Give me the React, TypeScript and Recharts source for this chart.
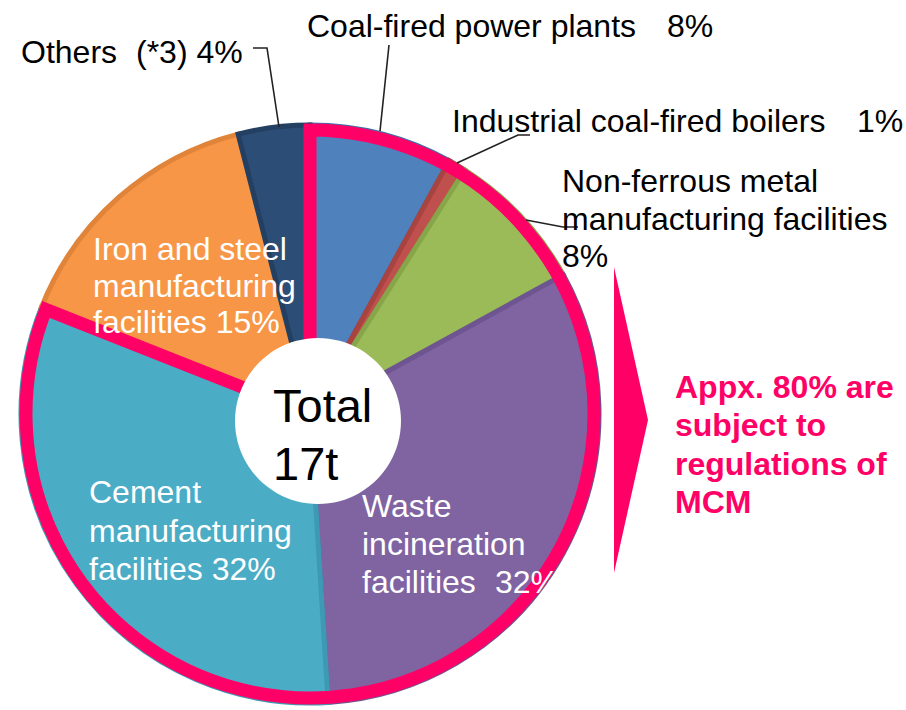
import React from 'react';
import { PieChart, Pie, Cell } from 'recharts';

const categories = [
  'Coal-fired power plants',
  'Industrial coal-fired boilers',
  'Non-ferrous metal manufacturing facilities',
  'Waste incineration facilities',
  'Cement manufacturing facilities',
  'Iron and steel manufacturing facilities',
  'Others (*3)',
];
const shares = [8, 1, 8, 32, 32, 15, 4];
const regulated = [true, true, true, true, true, false, false];
const fills = ['#4f81bd', '#c0504d', '#9bbb59', '#8064a2', '#4bacc6', '#f79646', '#2c4d75'];
const strokes = ['#3f6ea8', '#a84340', '#86a649', '#6e5591', '#3e9ab4', '#e0843a', '#233f61'];
const totalLines = ['Total', '17t'];
const noteLines = ['Appx. 80% are', 'subject to', 'regulations of', 'MCM'];

const sliceData = categories.map((name, i) => ({ name, value: shares[i] }));
const regSum = shares.reduce((s, v, i) => (regulated[i] ? s + v : s), 0);
const otherSum = shares.reduce((s, v, i) => (regulated[i] ? s : s + v), 0);
const outlineData = [
  { name: 'regulated', value: regSum },
  { name: 'rest', value: otherSum },
];
const centerData = [{ name: 'center', value: 1 }];

const FONT = 'Liberation Sans, Arial, Helvetica, sans-serif';
const PINK = '#ff0066';

export default function App() {
  const fs = 32;
  return (
    <div style={{ position: 'absolute', left: 0, top: 0, width: 906, height: 710, background: '#fff' }}>
      <PieChart width={906} height={710} margin={{ top: 0, right: 0, bottom: 0, left: 0 }}>
        <Pie
          data={sliceData}
          dataKey="value"
          cx={310}
          cy={414}
          outerRadius={289}
          innerRadius={0}
          startAngle={90}
          endAngle={-270}
          isAnimationActive={false}
          label={false}
          labelLine={false}
        >
          {sliceData.map((d, i) => (
            <Cell key={d.name} fill={fills[i]} stroke={strokes[i]} strokeWidth={5} />
          ))}
        </Pie>
        <Pie
          data={outlineData}
          dataKey="value"
          cx={310}
          cy={414}
          outerRadius={284}
          innerRadius={0}
          startAngle={90}
          endAngle={-270}
          isAnimationActive={false}
          label={false}
          labelLine={false}
        >
          <Cell fill="none" stroke={PINK} strokeWidth={13} strokeLinejoin="miter" />
          <Cell fill="none" stroke="none" />
        </Pie>
        <Pie
          data={centerData}
          dataKey="value"
          cx={318}
          cy={421}
          outerRadius={83}
          innerRadius={0}
          startAngle={90}
          endAngle={-270}
          isAnimationActive={false}
          label={false}
          labelLine={false}
        >
          <Cell fill="#ffffff" stroke="none" />
        </Pie>
      </PieChart>
      <svg
        width={906}
        height={710}
        style={{ position: 'absolute', left: 0, top: 0, pointerEvents: 'none' }}
        fontFamily={FONT}
      >
        <g stroke="#222" strokeWidth={1.6} fill="none">
          <polyline points="253,48 267,48 279,127" />
          <polyline points="389,45 380,131" />
          <polyline points="457,163 518,135 530,135" />
          <polyline points="526,220 563,227 578,227" />
        </g>
        <polygon points="614,267 648,420 614,573" fill={PINK} />

        <g fontSize={fs} fill="#000">
          <text x={21} y={63}>Others</text>
          <text x={136} y={63}>(*3) 4%</text>
          <text x={307} y={37}>Coal-fired power plants</text>
          <text x={667} y={37}>8%</text>
          <text x={452} y={132}>Industrial coal-fired boilers</text>
          <text x={857} y={132}>1%</text>
          <text x={562} y={192}>Non-ferrous metal</text>
          <text x={562} y={230}>manufacturing facilities</text>
          <text x={562} y={267}>8%</text>
        </g>
        <g fontSize={fs} fill="#fff">
          <text x={93} y={260}>Iron and steel</text>
          <text x={93} y={297}>manufacturing</text>
          <text x={93} y={333}>facilities 15%</text>
          <text x={89} y={503}>Cement</text>
          <text x={89} y={542}>manufacturing</text>
          <text x={89} y={580}>facilities 32%</text>
          <text x={362} y={517}>Waste</text>
          <text x={362} y={555}>incineration</text>
          <text x={362} y={593}>facilities</text>
          <text x={495} y={593}>32%</text>
        </g>
        <g fontSize={47} fill="#000">
          <text x={273} y={422}>{totalLines[0]}</text>
          <text x={273} y={480}>{totalLines[1]}</text>
        </g>
        <g fontSize={fs} fill={PINK} fontWeight="bold">
          {noteLines.map((t, i) => (
            <text key={t} x={675} y={398 + i * 38.3}>{t}</text>
          ))}
        </g>
      </svg>
    </div>
  );
}
